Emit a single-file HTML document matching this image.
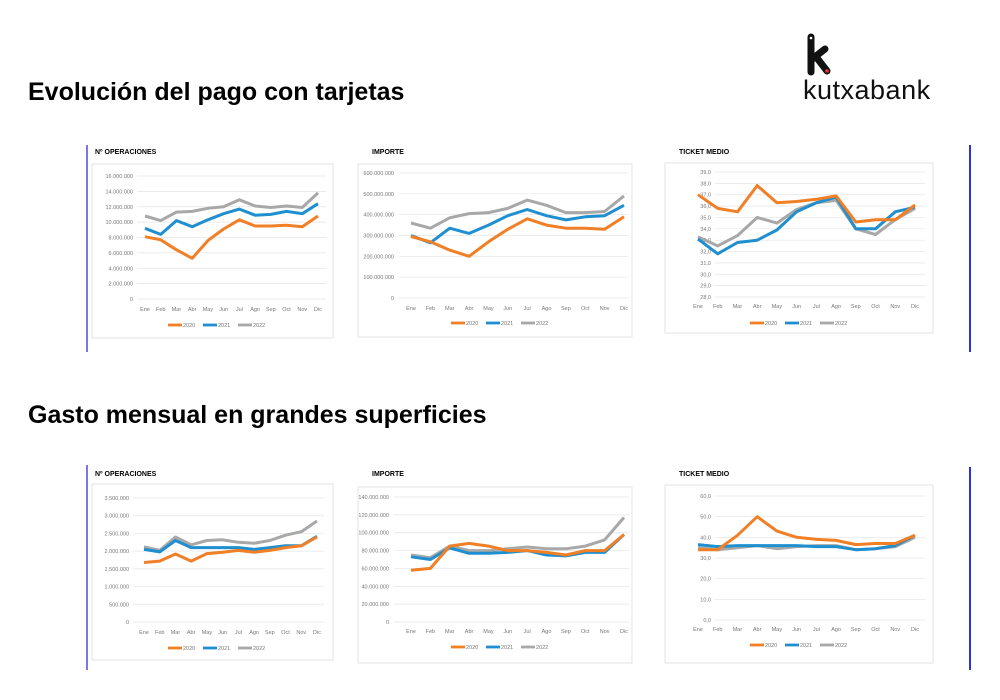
<!DOCTYPE html>
<html><head><meta charset="utf-8">
<style>
html,body{margin:0;padding:0;background:#fff;}
body{width:1000px;height:700px;position:relative;overflow:hidden;font-family:"Liberation Sans",Arial,sans-serif;}
h1{position:absolute;margin:0;font-size:25px;font-weight:bold;color:#000;left:28px;}
</style></head><body>
<h1 style="top:78px">Evolución del pago con tarjetas</h1>
<h1 style="top:401px">Gasto mensual en grandes superficies</h1>
<svg id="s" width="1000" height="700" style="position:absolute;left:0;top:0"></svg>
<div style="position:absolute;left:803px;top:75px;font-size:27px;color:#111;letter-spacing:0.5px;font-family:'Liberation Sans',sans-serif">kutxabank</div>
<script>
var s=document.getElementById('s');var h='';
h+='<line x1="811" y1="37" x2="811" y2="72" stroke="#111" stroke-width="7" stroke-linecap="round"/>';
h+='<path d="M811 60 L825 49 M817 58 L827 71" stroke="#111" stroke-width="7" stroke-linecap="round" fill="none"/>';
h+='<circle cx="811" cy="38" r="1.3" fill="#fff"/><circle cx="827" cy="71" r="1.8" fill="#e33"/>';
h+='<line x1="87" y1="145" x2="87" y2="352" stroke="#4a4fd8" stroke-width="1.5"/>';
h+='<line x1="970" y1="145" x2="970" y2="352" stroke="#2b33d6" stroke-width="2"/>';
h+='<line x1="87" y1="465" x2="87" y2="670" stroke="#4a4fd8" stroke-width="1.5"/>';
h+='<line x1="970" y1="467" x2="970" y2="670" stroke="#2b33d6" stroke-width="2"/>';
var M=['Ene','Feb','Mar','Abr','May','Jun','Jul','Ago','Sep','Oct','Nov','Dic'];
var C=['#f07f26','#1f8fd0','#a8a8a8'];
function fmt(v,dec){if(dec)return v.toFixed(1).replace('.',',');return v.toString().replace(/\B(?=(\d{3})+(?!\d))/g,'.');}
function chart(o){
 h+='<text x="'+o.tx+'" y="'+o.ty+'" font-size="7" font-weight="bold" fill="#000">'+o.title+'</text>';
 h+='<rect x="'+o.bx+'" y="'+o.by+'" width="'+o.bw+'" height="'+o.bh+'" fill="#fff" stroke="#ddd" stroke-width="0.8"/>';
 var n=o.ticks.length;
 for(var i=0;i<n;i++){var y=o.y0+(o.y1-o.y0)*i/(n-1);
  h+='<line x1="'+o.px0+'" y1="'+y+'" x2="'+o.px1+'" y2="'+y+'" stroke="#e4e4e4" stroke-width="0.7"/>';
  h+='<text x="'+o.lx+'" y="'+(y+2)+'" font-size="5.5" fill="#777" text-anchor="end">'+o.ticks[i]+'</text>';}
 for(var j=0;j<12;j++){var x=o.xa+(o.xb-o.xa)*j/11;
  h+='<text x="'+x+'" y="'+o.xly+'" font-size="5.5" fill="#777" text-anchor="middle">'+M[j]+'</text>';}
 [2,1,0].forEach(function(k){var d=o.data[k],p='';
  for(var j=0;j<12;j++){var x=o.xa+(o.xb-o.xa)*j/11;var y=o.y1-(o.y1-o.y0)*(d[j]-o.vmin)/(o.vmax-o.vmin);p+=(j?'L':'M')+x.toFixed(1)+' '+y.toFixed(1);}
  h+='<path d="'+p+'" fill="none" stroke="'+C[k]+'" stroke-width="3" stroke-linejoin="round"/>';});
 var lx=o.legx;['2020','2021','2022'].forEach(function(t,k){
  h+='<line x1="'+lx+'" y1="'+o.legy+'" x2="'+(lx+14)+'" y2="'+o.legy+'" stroke="'+C[k]+'" stroke-width="2.8"/>';
  h+='<text x="'+(lx+15)+'" y="'+(o.legy+2)+'" font-size="5.5" fill="#777">'+t+'</text>';lx+=35;});
}
function tk(max,step,mult,dec){var a=[];for(var v=max;v>=0;v-=step)a.push(dec?fmt(v,1):fmt(v*mult));return a;}
chart({title:'Nº OPERACIONES',tx:95,ty:154,bx:92,by:164,bw:241,bh:174,ticks:tk(16,2,1000000),y0:176,y1:299,vmax:16,vmin:0,lx:133,px0:137,px1:326,xa:145,xb:318,xly:311,legx:168,legy:325,
 data:[[8.1,7.7,6.4,5.3,7.6,9.1,10.3,9.5,9.5,9.6,9.4,10.8],[9.2,8.4,10.2,9.4,10.3,11.1,11.7,10.9,11.0,11.4,11.1,12.4],[10.8,10.2,11.3,11.4,11.8,12.0,12.9,12.1,11.9,12.1,11.9,13.8]]});
chart({title:'IMPORTE',tx:372,ty:154,bx:358,by:164,bw:274,bh:173,ticks:tk(600,100,1000000),y0:173,y1:298,vmax:600,vmin:0,lx:394,px0:399,px1:628,xa:411,xb:624,xly:310,legx:451,legy:323,
 data:[[295,270,230,200,270,330,380,350,335,335,330,390],[300,265,335,310,350,395,425,395,375,390,395,445],[360,335,385,405,410,430,470,445,410,410,415,490]]});
chart({title:'TICKET MEDIO',tx:679,ty:154,bx:665,by:163,bw:268,bh:170,ticks:tk(39,1,1,true).slice(0,12),y0:172,y1:297,vmax:39,vmin:28,lx:711,px0:715,px1:925,xa:698,xb:915,xly:308,legx:750,legy:323,
 data:[[37.0,35.8,35.5,37.8,36.3,36.4,36.6,36.9,34.6,34.8,34.8,36.1],[33.1,31.8,32.8,33.0,33.9,35.5,36.3,36.8,34.0,34.0,35.5,35.9],[33.3,32.5,33.4,35.0,34.5,35.7,36.3,36.5,34.0,33.5,34.8,35.8]]});
chart({title:'Nº OPERACIONES',tx:95,ty:476,bx:92,by:484,bw:241,bh:176,ticks:tk(3500,500,1000),y0:498,y1:622,vmax:3.5,vmin:0,lx:129,px0:133,px1:324,xa:144,xb:317,xly:634,legx:168,legy:648,
 data:[[1.68,1.72,1.92,1.72,1.93,1.97,2.02,1.97,2.02,2.10,2.15,2.40],[2.05,1.98,2.30,2.10,2.10,2.10,2.10,2.05,2.10,2.15,2.15,2.42],[2.12,2.02,2.40,2.18,2.30,2.32,2.25,2.22,2.30,2.45,2.55,2.85]]});
chart({title:'IMPORTE',tx:372,ty:476,bx:358,by:487,bw:274,bh:176,ticks:tk(140,20,1000000),y0:497,y1:622,vmax:140,vmin:0,lx:389,px0:394,px1:629,xa:411,xb:624,xly:633,legx:451,legy:647,
 data:[[58,60,85,88,85,80,80,78,75,80,80,98],[73,70,83,77,77,78,80,75,74,78,78,98],[75,72,85,80,80,82,84,82,82,85,92,117]]});
chart({title:'TICKET MEDIO',tx:679,ty:476,bx:665,by:485,bw:268,bh:178,ticks:tk(60,10,1,true),y0:496,y1:620,vmax:60,vmin:0,lx:711,px0:715,px1:925,xa:698,xb:915,xly:631,legx:750,legy:645,
 data:[[34,34,41,50,43,40,39,38.5,36.5,37,37,41],[36.5,35.5,36,36,36,36,35.5,35.5,34,34.5,36,41],[35,34,35,36,34.5,35.5,36,36,34,34.5,35.5,40]]});
s.innerHTML=h;
</script>
</body></html>
